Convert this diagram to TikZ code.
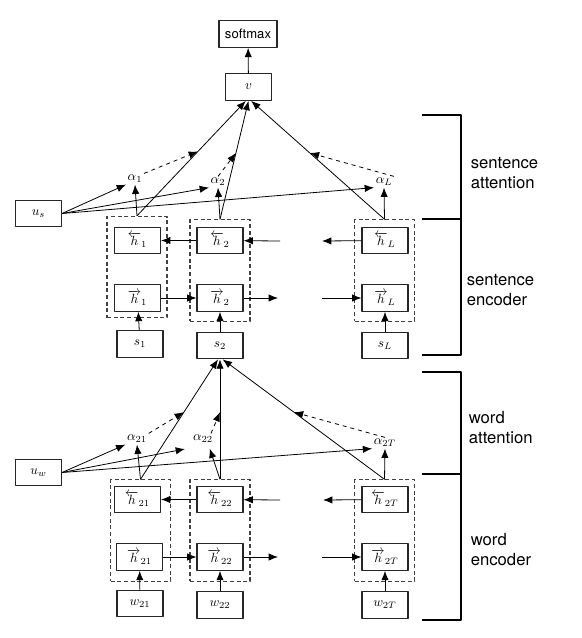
\documentclass[tikz,border=0pt]{standalone}
\usepackage{fontspec}
\setsansfont{TeX Gyre Heros}
\usetikzlibrary{arrows.meta,calc}
\begin{document}
\begin{tikzpicture}[x=0.75pt, y=-0.75pt, line width=0.6pt, line join=round, >={Latex[length=7pt,width=5.5pt]}]
		\tikzset{unit/.style={draw=black!85, line width=0.8pt, minimum width=34.5pt, minimum height=20pt, inner sep=0pt, font=\normalsize}}
		\tikzset{group/.style={draw=black!75, dashed, line width=0.8pt, dash pattern=on 3pt off 2pt, minimum width=45pt, minimum height=76pt, inner sep=0pt}}
		\tikzset{weight/.style={inner sep=1pt, font=\normalsize}}
		\tikzset{tag/.style={font=\sffamily\fontsize{12.5}{15}\selectfont, align=left, anchor=west}}
		\def \mid{0.56}
		\useasboundingbox (0,0) rectangle (581,638);
		% sentence level
		\node[unit, minimum width=43.5pt, font=\sffamily\fontsize{9.8}{11}\selectfont] (softmax) at (248,34) {softmax};
		\node[unit] (v) at (248.5,87) {$v$};
		\node[unit] (us) at (38.5,213.5) {$u_s$};
		\node[weight] (a1) at (135,179) {$\alpha_1$};
		\node[weight] (a2) at (218,182) {$\alpha_2$};
		\node[weight] (aL) at (384,182) {$\alpha_L$};
		\node[group] (g1) at (137,267) {};
		\node[group] (g2) at (220,270.5) {};
		\node[group] (gL) at (384.5,270.5) {};
		\node[unit] (hb1) at (137.5,240.5) {$\overleftarrow{h}_1$};
		\node[unit] (hf1) at (137.5,298) {$\overrightarrow{h}_1$};
		\node[unit] (hb2) at (220,240.5) {$\overleftarrow{h}_2$};
		\node[unit] (hf2) at (220,298) {$\overrightarrow{h}_2$};
		\node[unit] (hbL) at (385,240.5) {$\overleftarrow{h}_L$};
		\node[unit] (hfL) at (385,298) {$\overrightarrow{h}_L$};
		\node[unit] (s1) at (140,344) {$s_1$};
		\node[unit] (s2) at (220,345.5) {$s_2$};
		\node[unit] (sL) at (385,345.5) {$s_L$};
		\coordinate (bin) at (280,241);
		\coordinate (bout) at (322,241);
		\coordinate (fout) at (278,298);
		\coordinate (fin) at (322,298);
		\draw[->] (v) -- (softmax);
		\draw[->] (hb2) -- (hb1);
		\draw[->] (bin) -- (hb2);
		\draw[->] (hbL) -- (bout);
		\draw[->] (hf1) -- (hf2);
		\draw[->] (hf2) -- (fout);
		\draw[->] (fin) -- (hfL);
		\draw[->] (s1) -- (hf1);
		\draw[->] (s2) -- (hf2);
		\draw[->] (sL) -- (hfL);
		\draw[->] (g1.north) -- ([xshift=-2pt]v.south);
		\draw[->] (g2.north) -- (v.south);
		\draw[->] (gL.north) -- ([xshift=2pt]v.south);
		\draw[->] (g1.north) -- (a1.south);
		\draw[->] (g2.north) -- (a2.south);
		\draw[->] (gL.north) -- (aL.south);
		\draw[->] (us.east) -- (a1.south west);
		\draw[->] (us.east) -- (a2.south west);
		\draw[->] (us.east) -- (aL.south west);
		\draw[->, dashed] (a1.north east) -- ($(g1.north)!\mid!([xshift=-2pt]v.south)$);
		\draw[->, dashed] (a2.north) -- ($(g2.north)!\mid!(v.south)$);
		\draw[->, dashed] (aL.north east) -- ($(gL.north)!\mid!([xshift=2pt]v.south)$);
		% word level
		\node[unit] (uw) at (38.5,472.5) {$u_w$};
		\node[weight] (a21) at (137,439) {$\alpha_{21}$};
		\node[weight] (a22) at (203,439) {$\alpha_{22}$};
		\node[weight] (a2T) at (385,443) {$\alpha_{2T}$};
		\node[group] (w1) at (140.5,530.5) {};
		\node[group] (w2) at (220,530.5) {};
		\node[group] (wT) at (384.5,530.5) {};
		\node[unit] (hb21) at (137.5,499.5) {$\overleftarrow{h}_{21}$};
		\node[unit] (hf21) at (139.5,557) {$\overrightarrow{h}_{21}$};
		\node[unit] (hb22) at (220,499.5) {$\overleftarrow{h}_{22}$};
		\node[unit] (hf22) at (220,557) {$\overrightarrow{h}_{22}$};
		\node[unit] (hb2T) at (385,499.5) {$\overleftarrow{h}_{2T}$};
		\node[unit] (hf2T) at (385,557) {$\overrightarrow{h}_{2T}$};
		\node[unit] (x21) at (140,603.5) {$w_{21}$};
		\node[unit] (x22) at (220,605) {$w_{22}$};
		\node[unit] (x2T) at (385,605) {$w_{2T}$};
		\coordinate (wbin) at (280,500);
		\coordinate (wbout) at (323,500);
		\coordinate (wfout) at (278,557);
		\coordinate (wfin) at (322,557);
		\coordinate (loose) at (185,449);
		\draw[->] (hb22) -- (hb21);
		\draw[->] (wbin) -- (hb22);
		\draw[->] (hb2T) -- (wbout);
		\draw[->] (hf21) -- (hf22);
		\draw[->] (hf22) -- (wfout);
		\draw[->] (wfin) -- (hf2T);
		\draw[->] (x21) -- (hf21);
		\draw[->] (x22) -- (hf22);
		\draw[->] (x2T) -- (hf2T);
		\draw[->] (w1.north) -- ([xshift=-1.5pt]s2.south);
		\draw[->] (w2.north) -- (s2.south);
		\draw[->] (wT.north) -- ([xshift=2pt]s2.south);
		\draw[->] (w1.north) -- (a21.south);
		\draw[->] (w2.north) -- ([xshift=5pt,yshift=-3pt]a22.south);
		\draw[->] (wT.north) -- (a2T.south);
		\draw[->] (uw.east) -- (a21.south west);
		\draw[->] (uw.east) -- (loose);
		\draw[->] (uw.east) -- (a2T.south west);
		\draw[->, dashed] (a21.north east) -- ($(w1.north)!\mid!([xshift=-1.5pt]s2.south)$);
		\draw[->, dashed] ([xshift=6pt]a22.north) -- ($(w2.north)!\mid!(s2.south)$);
		\draw[->, dashed] (a2T.north) -- ($(wT.north)!\mid!([xshift=2pt]s2.south)$);
		% brackets
		\draw[line width=0.8pt] (422,115) -- (461,115) -- (461,355) -- (422,355);
		\draw[line width=0.8pt] (422,219) -- (461,219);
		\draw[line width=0.8pt] (422,372) -- (461,372) -- (461,620) -- (422,620);
		\draw[line width=0.8pt] (422,474) -- (461,474);
		\node[tag] (sa) at (466,173) {sentence\\attention};
		\node[tag] (se) at (462,290) {sentence\\encoder};
		\node[tag] (wa) at (464,428) {word\\attention};
		\node[tag] (we) at (466,550) {word\\encoder};
\end{tikzpicture}
\end{document}
